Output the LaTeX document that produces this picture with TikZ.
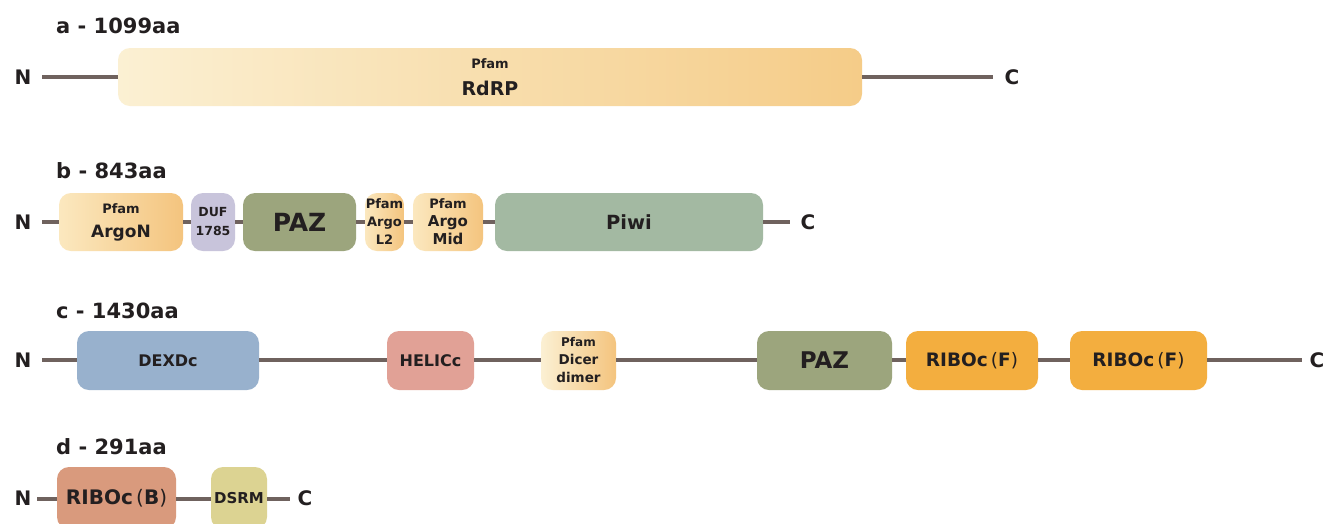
\documentclass[tikz,border=0pt]{standalone}
\usepackage{fontspec}
\setmainfont{DejaVu Sans}
\newcommand\fsz[1]{\fontsize{#1}{#1}\selectfont}
\newcommand\thinpar[1]{{\mdseries(}#1{\mdseries)}}

\definecolor{ink}{HTML}{231F20}
\definecolor{bbline}{HTML}{6F625E}
\definecolor{cDUF}{HTML}{C8C4DB}
\definecolor{cPAZ}{HTML}{9CA57D}
\definecolor{cPiwi}{HTML}{A3B9A2}
\definecolor{cDEXD}{HTML}{98B1CD}
\definecolor{cHELIC}{HTML}{E1A196}
\definecolor{cRIBOF}{HTML}{F3AE3F}
\definecolor{cRIBOB}{HTML}{D99A7D}
\definecolor{cDSRM}{HTML}{DCD392}
\definecolor{gLight}{HTML}{FBF0D3}
\definecolor{gDark}{HTML}{F5CC88}
\definecolor{gLightB}{HTML}{FBE8BF}
\definecolor{gDarkB}{HTML}{F4C47E}

\tikzset{
  dom/.style={rounded corners=12pt, inner sep=0pt, align=center, text=ink,
              minimum height=58pt},
  flat/.style={dom, fill=#1},
  grad/.style 2 args={dom, left color=#1, right color=#2},
  bb/.style={line width=4pt, draw=bbline},
  term/.style={text=ink, inner sep=0pt, font=\bfseries\fsz{20}},
  title/.style={anchor=base west, text=ink, inner sep=0pt, font=\bfseries\fsz{21}},
}

\begin{document}
\begin{tikzpicture}[x=1pt,y=-1pt]
\useasboundingbox (0,0) rectangle (1337,523);
\fill[white] (0,0) rectangle (1337,523);

% ---------- a: RdRP ----------
\node[title] (ta) at (56,33) {a - 1099aa};
\node[term] (Na) at (23,77) {N};
\node[term] (Ca) at (1012,77) {C};
\coordinate (a0) at (42,77);
\coordinate (a1) at (993,77);
\node[grad={gLight}{gDark}, minimum width=744pt, font=\bfseries\fontsize{19}{27}\selectfont]
  (rdrp) at (490,77) {{\fsz{13}Pfam}\\RdRP};
\draw[bb] (a0) -- (rdrp.west);
\draw[bb] (rdrp.east) -- (a1);

% ---------- b: Argonaute ----------
\node[title] (tb) at (56,178) {b - 843aa};
\node[term] (Nb) at (23,222) {N};
\node[term] (Cb) at (808,222) {C};
\coordinate (b0) at (42,222);
\coordinate (b1) at (790,222);
\begin{scope}[yshift=-1pt]
\node[grad={gLightB}{gDarkB}, minimum width=124pt, font=\bfseries\fontsize{17}{24}\selectfont]
  (argon) at (121,221) {{\fsz{13}Pfam}\\ArgoN};
\node[flat=cDUF, minimum width=44pt, font=\bfseries\fontsize{12.5}{19}\selectfont]
  (duf) at (213,221) {DUF\\1785};
\node[flat=cPAZ, minimum width=113pt, font=\bfseries\fsz{25}]
  (pazb) at (299.5,221) {PAZ};
\node[grad={gLightB}{gDarkB}, minimum width=39pt, font=\bfseries\fontsize{13}{18}\selectfont]
  (l2) at (384.5,221) {Pfam\\Argo\\L2};
\node[grad={gLightB}{gDarkB}, minimum width=70pt, font=\bfseries\fontsize{15}{18}\selectfont]
  (mid) at (448,221) {{\fsz{13}Pfam}\\Argo\\Mid};
\node[flat=cPiwi, minimum width=268pt, font=\bfseries\fsz{19.5}]
  (piwi) at (629,221) {Piwi};
\end{scope}
\draw[bb] (b0) -- (argon.west |- b0);
\draw[bb] (argon.east |- b0) -- (duf.west |- b0);
\draw[bb] (duf.east |- b0) -- (pazb.west |- b0);
\draw[bb] (pazb.east |- b0) -- (l2.west |- b0);
\draw[bb] (l2.east |- b0) -- (mid.west |- b0);
\draw[bb] (mid.east |- b0) -- (piwi.west |- b0);
\draw[bb] (piwi.east |- b0) -- (b1);

% ---------- c: Dicer ----------
\node[title] (tc) at (56,318) {c - 1430aa};
\node[term] (Nc) at (23,360) {N};
\node[term] (Cc) at (1317,360) {C};
\coordinate (c0) at (42,360);
\coordinate (c1) at (1302,360);
\node[flat=cDEXD, minimum width=182pt, minimum height=59pt, font=\bfseries\fsz{16}]
  (dexd) at (168,360.5) {DEXDc};
\node[flat=cHELIC, minimum width=87pt, minimum height=59pt, font=\bfseries\fsz{16}]
  (helic) at (430.5,360.5) {HELICc};
\node[grad={gLight}{gDarkB}, minimum width=75pt, minimum height=59pt, font=\bfseries\fontsize{13.5}{18}\selectfont]
  (dicer) at (578.5,360.5) {{\fsz{12}Pfam}\\Dicer\\dimer};
\node[flat=cPAZ, minimum width=135pt, minimum height=59pt, font=\bfseries\fsz{23}]
  (pazc) at (824.5,360.5) {PAZ};
\node[flat=cRIBOF, minimum width=132pt, minimum height=59pt, font=\bfseries\fsz{18.5}]
  (ribo1) at (972,360.5) {RIBOc\,\thinpar{F}};
\node[flat=cRIBOF, minimum width=137pt, minimum height=59pt, font=\bfseries\fsz{18.5}]
  (ribo2) at (1138.5,360.5) {RIBOc\,\thinpar{F}};
\draw[bb] (c0) -- (dexd.west |- c0);
\draw[bb] (dexd.east |- c0) -- (helic.west |- c0);
\draw[bb] (helic.east |- c0) -- (dicer.west |- c0);
\draw[bb] (dicer.east |- c0) -- (pazc.west |- c0);
\draw[bb] (pazc.east |- c0) -- (ribo1.west |- c0);
\draw[bb] (ribo1.east |- c0) -- (ribo2.west |- c0);
\draw[bb] (ribo2.east |- c0) -- (c1);

% ---------- d: RNase III ----------
\node[title] (td) at (56,454) {d - 291aa};
\node[term] (Nd) at (23,498) {N};
\node[term] (Cd) at (305,498) {C};
\coordinate (d0) at (37,499);
\coordinate (d1) at (290,499);
\node[flat=cRIBOB, minimum width=119pt, minimum height=62pt, font=\bfseries\fsz{20}]
  (ribob) at (116.5,498) {RIBOc\,\thinpar{B}};
\node[flat=cDSRM, minimum width=56pt, minimum height=62pt, font=\bfseries\fsz{15}]
  (dsrm) at (239,498) {DSRM};
\draw[bb] (d0) -- (ribob.west |- d0);
\draw[bb] (ribob.east |- d0) -- (dsrm.west |- d0);
\draw[bb] (dsrm.east |- d0) -- (d1);
\end{tikzpicture}
\end{document}
